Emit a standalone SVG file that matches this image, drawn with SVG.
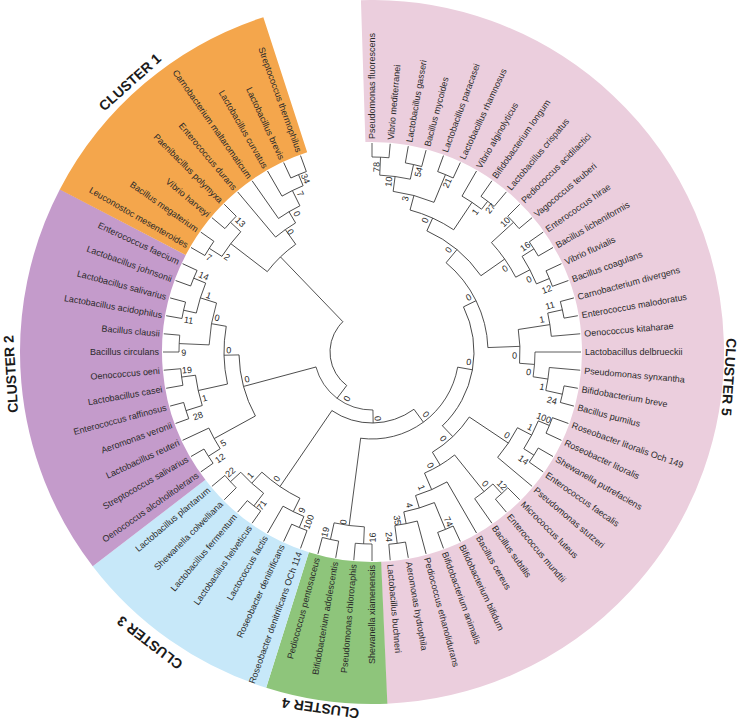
<svg xmlns="http://www.w3.org/2000/svg" width="740" height="723" viewBox="0 0 740 723">
<style>
.sec{fill:none;stroke-width:142}
.a{fill:none;stroke:#333;stroke-width:0.8}
.c line{stroke:#333;stroke-width:0.8}
.lf{font-family:"Liberation Sans",Arial,sans-serif;font-size:9px;fill:#2a2a2a}
.l{text-anchor:end}
.bs{font-family:"Liberation Sans",Arial,sans-serif;font-size:9px;fill:#2a2a2a;text-anchor:middle}
.cl{font-family:"Liberation Sans",Arial,sans-serif;font-size:14px;font-weight:bold;fill:#1a1a1a;text-anchor:middle}
</style>
<rect width="740" height="723" fill="#ffffff"/>
<g transform="translate(372,352)">
<g id="sectors">
<circle class="sec" r="281" stroke="#EBCEDD" stroke-dasharray="879.36 3000" transform="rotate(-91.8)"/>
<circle class="sec" r="281" stroke="#8EC57B" stroke-dasharray="98.09 3000" transform="rotate(87.5)"/>
<circle class="sec" r="281" stroke="#C7E8F9" stroke-dasharray="171.65 3000" transform="rotate(107.5)"/>
<circle class="sec" r="281" stroke="#C49BCB" stroke-dasharray="318.79 3000" transform="rotate(142.5)"/>
<circle class="sec" r="281" stroke="#F4A64C" stroke-dasharray="218.25 3000" transform="rotate(207.5)"/>
</g>
<g id="cluster-labels">
<text class="cl" y="5" transform="rotate(318.1) translate(0,-362.6)">CLUSTER 1</text>
<text class="cl" y="5" transform="rotate(266.5) translate(0,-362)">CLUSTER 2</text>
<text class="cl" y="5" transform="rotate(217.4) translate(0,-366)">CLUSTER 3</text>
<text class="cl" y="5" transform="rotate(188.2) translate(0,-360)">CLUSTER 4</text>
<text class="cl" y="5" transform="rotate(94) translate(0,-358)">CLUSTER 5</text>
</g>
<g id="connectors" class="c">
<line x1="195" x2="209" transform="rotate(-90)"/>
<line x1="195" x2="209" transform="rotate(-85)"/>
<line x1="192" x2="209" transform="rotate(-80)"/>
<line x1="192" x2="209" transform="rotate(-75)"/>
<line x1="192" x2="209" transform="rotate(-70)"/>
<line x1="192" x2="209" transform="rotate(-65)"/>
<line x1="180" x2="209" transform="rotate(-60)"/>
<line x1="190" x2="209" transform="rotate(-55)"/>
<line x1="190" x2="209" transform="rotate(-50)"/>
<line x1="192" x2="209" transform="rotate(-45)"/>
<line x1="192" x2="209" transform="rotate(-40)"/>
<line x1="192" x2="209" transform="rotate(-35)"/>
<line x1="192" x2="209" transform="rotate(-30)"/>
<line x1="192" x2="209" transform="rotate(-25)"/>
<line x1="192" x2="209" transform="rotate(-20)"/>
<line x1="195" x2="209" transform="rotate(-15)"/>
<line x1="195" x2="209" transform="rotate(-10)"/>
<line x1="180" x2="209" transform="rotate(-5)"/>
<line x1="163" x2="209" transform="rotate(0)"/>
<line x1="178" x2="209" transform="rotate(5)"/>
<line x1="195" x2="209" transform="rotate(10)"/>
<line x1="195" x2="209" transform="rotate(15)"/>
<line x1="192" x2="209" transform="rotate(20)"/>
<line x1="192" x2="209" transform="rotate(25)"/>
<line x1="192" x2="209" transform="rotate(30)"/>
<line x1="192" x2="209" transform="rotate(35)"/>
<line x1="164" x2="209" transform="rotate(40)"/>
<line x1="192" x2="209" transform="rotate(45)"/>
<line x1="192" x2="209" transform="rotate(50)"/>
<line x1="179" x2="209" transform="rotate(55)"/>
<line x1="150" x2="209" transform="rotate(60)"/>
<line x1="192" x2="209" transform="rotate(65)"/>
<line x1="192" x2="209" transform="rotate(70)"/>
<line x1="175" x2="209" transform="rotate(75)"/>
<line x1="193" x2="209" transform="rotate(80)"/>
<line x1="193" x2="209" transform="rotate(85)"/>
<line x1="192" x2="209" transform="rotate(90)"/>
<line x1="192" x2="209" transform="rotate(95)"/>
<line x1="192" x2="209" transform="rotate(100)"/>
<line x1="192" x2="209" transform="rotate(105)"/>
<line x1="190" x2="209" transform="rotate(110)"/>
<line x1="190" x2="209" transform="rotate(115)"/>
<line x1="178" x2="209" transform="rotate(120)"/>
<line x1="194" x2="209" transform="rotate(125)"/>
<line x1="194" x2="209" transform="rotate(130)"/>
<line x1="192" x2="209" transform="rotate(135)"/>
<line x1="192" x2="209" transform="rotate(140)"/>
<line x1="194" x2="209" transform="rotate(145)"/>
<line x1="194" x2="209" transform="rotate(150)"/>
<line x1="180" x2="209" transform="rotate(155)"/>
<line x1="195" x2="209" transform="rotate(160)"/>
<line x1="195" x2="209" transform="rotate(165)"/>
<line x1="192" x2="209" transform="rotate(170)"/>
<line x1="192" x2="209" transform="rotate(175)"/>
<line x1="193" x2="209" transform="rotate(180)"/>
<line x1="193" x2="209" transform="rotate(185)"/>
<line x1="193" x2="209" transform="rotate(190)"/>
<line x1="193" x2="209" transform="rotate(195)"/>
<line x1="193" x2="209" transform="rotate(200)"/>
<line x1="193" x2="209" transform="rotate(205)"/>
<line x1="193" x2="209" transform="rotate(210)"/>
<line x1="193" x2="209" transform="rotate(215)"/>
<line x1="192" x2="209" transform="rotate(220)"/>
<line x1="192" x2="209" transform="rotate(225)"/>
<line x1="150" x2="209" transform="rotate(230)"/>
<line x1="163" x2="209" transform="rotate(235)"/>
<line x1="180" x2="209" transform="rotate(240)"/>
<line x1="192" x2="209" transform="rotate(245)"/>
<line x1="192" x2="209" transform="rotate(250)"/>
<line x1="177" x2="195" transform="rotate(-87.5)"/>
<line x1="177" x2="192" transform="rotate(-77.5)"/>
<line x1="162" x2="177" transform="rotate(-82.5)"/>
<line x1="162" x2="192" transform="rotate(-67.5)"/>
<line x1="147" x2="162" transform="rotate(-75)"/>
<line x1="180" x2="190" transform="rotate(-52.5)"/>
<line x1="147" x2="180" transform="rotate(-56.25)"/>
<line x1="133" x2="147" transform="rotate(-65.625)"/>
<line x1="162" x2="192" transform="rotate(-42.5)"/>
<line x1="178" x2="192" transform="rotate(-32.5)"/>
<line x1="178" x2="192" transform="rotate(-22.5)"/>
<line x1="162" x2="178" transform="rotate(-27.5)"/>
<line x1="133" x2="162" transform="rotate(-35)"/>
<line x1="116" x2="133" transform="rotate(-50.3125)"/>
<line x1="180" x2="195" transform="rotate(-12.5)"/>
<line x1="148" x2="180" transform="rotate(-8.75)"/>
<line x1="178" x2="195" transform="rotate(12.5)"/>
<line x1="163" x2="178" transform="rotate(8.75)"/>
<line x1="148" x2="163" transform="rotate(4.375)"/>
<line x1="116" x2="148" transform="rotate(-2.1875)"/>
<line x1="102" x2="116" transform="rotate(-26.25)"/>
<line x1="180" x2="192" transform="rotate(22.5)"/>
<line x1="180" x2="192" transform="rotate(32.5)"/>
<line x1="164" x2="180" transform="rotate(27.5)"/>
<line x1="117" x2="164" transform="rotate(33.75)"/>
<line x1="179" x2="192" transform="rotate(47.5)"/>
<line x1="132" x2="179" transform="rotate(51.25)"/>
<line x1="163" x2="192" transform="rotate(67.5)"/>
<line x1="175" x2="193" transform="rotate(82.5)"/>
<line x1="163" x2="175" transform="rotate(78.75)"/>
<line x1="150" x2="163" transform="rotate(73.125)"/>
<line x1="132" x2="150" transform="rotate(66.56)"/>
<line x1="117" x2="132" transform="rotate(58.91)"/>
<line x1="102" x2="117" transform="rotate(46.33)"/>
<line x1="87" x2="102" transform="rotate(10.04)"/>
<line x1="175" x2="192" transform="rotate(92.5)"/>
<line x1="175" x2="192" transform="rotate(102.5)"/>
<line x1="87" x2="175" transform="rotate(97.5)"/>
<line x1="71" x2="87" transform="rotate(53.77)"/>
<line x1="178" x2="190" transform="rotate(112.5)"/>
<line x1="163" x2="178" transform="rotate(116.25)"/>
<line x1="178" x2="194" transform="rotate(127.5)"/>
<line x1="178" x2="192" transform="rotate(137.5)"/>
<line x1="163" x2="178" transform="rotate(132.5)"/>
<line x1="71" x2="163" transform="rotate(124.375)"/>
<line x1="58" x2="71" transform="rotate(89.07)"/>
<line x1="180" x2="194" transform="rotate(147.5)"/>
<line x1="133" x2="180" transform="rotate(151.25)"/>
<line x1="178" x2="195" transform="rotate(162.5)"/>
<line x1="178" x2="192" transform="rotate(172.5)"/>
<line x1="148" x2="178" transform="rotate(167.5)"/>
<line x1="163" x2="193" transform="rotate(182.5)"/>
<line x1="180" x2="193" transform="rotate(192.5)"/>
<line x1="180" x2="193" transform="rotate(202.5)"/>
<line x1="163" x2="180" transform="rotate(197.5)"/>
<line x1="148" x2="163" transform="rotate(190)"/>
<line x1="133" x2="148" transform="rotate(178.75)"/>
<line x1="58" x2="133" transform="rotate(165)"/>
<line x1="42" x2="58" transform="rotate(127.03)"/>
<line x1="178" x2="193" transform="rotate(212.5)"/>
<line x1="178" x2="192" transform="rotate(222.5)"/>
<line x1="132" x2="178" transform="rotate(217.5)"/>
<line x1="180" x2="192" transform="rotate(247.5)"/>
<line x1="163" x2="180" transform="rotate(243.75)"/>
<line x1="150" x2="163" transform="rotate(239.375)"/>
<line x1="132" x2="150" transform="rotate(234.69)"/>
<line x1="42" x2="132" transform="rotate(226.09)"/>
</g>
<g id="nodes">
<g id="n78"><circle class="a" r="195" stroke-dasharray="17.02 3000" transform="rotate(-90)"/><text class="bs" y="3" transform="rotate(-88.6) translate(185,0)">78</text></g>
<g id="n54"><circle class="a" r="192" stroke-dasharray="16.76 3000" transform="rotate(-80)"/><text class="bs" y="3" transform="rotate(-75.5) translate(186,0)">54</text></g>
<g id="n10a"><circle class="a" r="177" stroke-dasharray="30.89 3000" transform="rotate(-87.5)"/><text class="bs" y="3" transform="rotate(-84.4) translate(171,0)">10</text></g>
<g id="n21"><circle class="a" r="192" stroke-dasharray="16.76 3000" transform="rotate(-70)"/><text class="bs" y="3" transform="rotate(-66) translate(185,0)">21</text></g>
<g id="n3"><circle class="a" r="162" stroke-dasharray="42.41 3000" transform="rotate(-82.5)"/><text class="bs" y="3" transform="rotate(-77.7) translate(157,0)">3</text></g>
<g id="n27"><circle class="a" r="190" stroke-dasharray="16.58 3000" transform="rotate(-55)"/><text class="bs" y="3" transform="rotate(-50.5) translate(186,0)">27</text></g>
<g id="n1a"><circle class="a" r="180" stroke-dasharray="23.56 3000" transform="rotate(-60)"/><text class="bs" y="3" transform="rotate(-53.6) translate(174,0)">1</text></g>
<g id="n0a"><circle class="a" r="147" stroke-dasharray="48.11 3000" transform="rotate(-75)"/><text class="bs" y="3" transform="rotate(-68) translate(142,0)">0</text></g>
<g id="n10b"><circle class="a" r="192" stroke-dasharray="16.76 3000" transform="rotate(-45)"/><text class="bs" y="3" transform="rotate(-44.3) translate(186,0)">10</text></g>
<g id="n16a"><circle class="a" r="192" stroke-dasharray="16.76 3000" transform="rotate(-35)"/><text class="bs" y="3" transform="rotate(-34.5) translate(186,0)">16</text></g>
<g id="n12a"><circle class="a" r="192" stroke-dasharray="16.76 3000" transform="rotate(-25)"/><text class="bs" y="3" transform="rotate(-19.7) translate(185.6,0)">12</text></g>
<g id="n0e"><circle class="a" r="178" stroke-dasharray="31.07 3000" transform="rotate(-32.5)"/><text class="bs" y="3" transform="rotate(-24.8) translate(173,0)">0</text></g>
<g id="n0f"><circle class="a" r="162" stroke-dasharray="42.41 3000" transform="rotate(-42.5)"/><text class="bs" y="3" transform="rotate(-32.1) translate(157,0)">0</text></g>
<g id="n0b"><circle class="a" r="133" stroke-dasharray="71.09 3000" transform="rotate(-65.625)"/><text class="bs" y="3" transform="rotate(-53.1) translate(127.5,0)">0</text></g>
<g id="n11a"><circle class="a" r="195" stroke-dasharray="17.02 3000" transform="rotate(-15)"/><text class="bs" y="3" transform="rotate(-14.6) translate(184,0)">11</text></g>
<g id="n1c"><circle class="a" r="180" stroke-dasharray="23.56 3000" transform="rotate(-12.5)"/><text class="bs" y="3" transform="rotate(-10.8) translate(173,0)">1</text></g>
<g id="n24a"><circle class="a" r="195" stroke-dasharray="17.02 3000" transform="rotate(10)"/><text class="bs" y="3" transform="rotate(15.1) translate(186.4,0)">24</text></g>
<g id="n1d"><circle class="a" r="178" stroke-dasharray="23.30 3000" transform="rotate(5)"/><text class="bs" y="3" transform="rotate(11.6) translate(173.6,0)">1</text></g>
<g id="n0d"><circle class="a" r="163" stroke-dasharray="24.89 3000" transform="rotate(0)"/><text class="bs" y="3" transform="rotate(7.3) translate(158,0)">0</text></g>
<g id="n0c"><circle class="a" r="148" stroke-dasharray="33.90 3000" transform="rotate(-8.75)"/><text class="bs" y="3" transform="rotate(1.4) translate(142.5,0)">0</text></g>
<g id="n0r117"><circle class="a" r="116" stroke-dasharray="97.43 3000" transform="rotate(-50.3125)"/><text class="bs" y="3" transform="rotate(-29.5) translate(111,0)">0</text></g>
<g id="n100a"><circle class="a" r="192" stroke-dasharray="16.76 3000" transform="rotate(20)"/><text class="bs" y="3" transform="rotate(21) translate(184,0)">100</text></g>
<g id="n14b"><circle class="a" r="192" stroke-dasharray="16.76 3000" transform="rotate(30)"/><text class="bs" y="3" transform="rotate(35.5) translate(186,0)">14</text></g>
<g id="n1g"><circle class="a" r="180" stroke-dasharray="31.42 3000" transform="rotate(22.5)"/><text class="bs" y="3" transform="rotate(25.4) translate(175,0)">1</text></g>
<g id="n0m"><circle class="a" r="164" stroke-dasharray="35.78 3000" transform="rotate(27.5)"/><text class="bs" y="3" transform="rotate(31.7) translate(158.6,0)">0</text></g>
<g id="n12c"><circle class="a" r="192" stroke-dasharray="16.76 3000" transform="rotate(45)"/><text class="bs" y="3" transform="rotate(45.7) translate(186,0)">12</text></g>
<g id="n0o"><circle class="a" r="179" stroke-dasharray="23.43 3000" transform="rotate(47.5)"/><text class="bs" y="3" transform="rotate(49.3) translate(173.6,0)">0</text></g>
<g id="n74"><circle class="a" r="192" stroke-dasharray="16.76 3000" transform="rotate(65)"/><text class="bs" y="3" transform="rotate(65.8) translate(186,0)">74</text></g>
<g id="n24b"><circle class="a" r="193" stroke-dasharray="16.84 3000" transform="rotate(80)"/><text class="bs" y="3" transform="rotate(84.8) translate(185.8,0)">24</text></g>
<g id="n35"><circle class="a" r="175" stroke-dasharray="22.91 3000" transform="rotate(75)"/><text class="bs" y="3" transform="rotate(81.5) translate(170,0)">35</text></g>
<g id="n4"><circle class="a" r="163" stroke-dasharray="32.01 3000" transform="rotate(67.5)"/><text class="bs" y="3" transform="rotate(76.3) translate(157.7,0)">4</text></g>
<g id="n1h"><circle class="a" r="150" stroke-dasharray="34.36 3000" transform="rotate(60)"/><text class="bs" y="3" transform="rotate(70) translate(144.3,0)">1</text></g>
<g id="n0p"><circle class="a" r="132" stroke-dasharray="35.27 3000" transform="rotate(51.25)"/><text class="bs" y="3" transform="rotate(62.8) translate(127.4,0)">0</text></g>
<g id="n0n"><circle class="a" r="117" stroke-dasharray="51.38 3000" transform="rotate(33.75)"/><text class="bs" y="3" transform="rotate(50.6) translate(112,0)">0</text></g>
<g id="n0r103"><circle class="a" r="102" stroke-dasharray="129.21 3000" transform="rotate(-26.25)"/><text class="bs" y="3" transform="rotate(5.9) translate(97.2,0)">0</text></g>
<g id="n16b"><circle class="a" r="192" stroke-dasharray="16.76 3000" transform="rotate(90)"/><text class="bs" y="3" transform="rotate(-90.2) translate(-185.5,0)">16</text></g>
<g id="n19b"><circle class="a" r="192" stroke-dasharray="16.76 3000" transform="rotate(100)"/><text class="bs" y="3" transform="rotate(-75.5) translate(-186,0)">19</text></g>
<g id="n0q"><circle class="a" r="175" stroke-dasharray="30.54 3000" transform="rotate(92.5)"/><text class="bs" y="3" transform="rotate(-80.5) translate(-172.3,0)">0</text></g>
<g id="n0r88"><circle class="a" r="87" stroke-dasharray="132.80 3000" transform="rotate(10.04)"/><text class="bs" y="3" transform="rotate(49.1) translate(82.5,0)">0</text></g>
<g id="n100b"><circle class="a" r="190" stroke-dasharray="16.58 3000" transform="rotate(110)"/><text class="bs" y="3" transform="rotate(-69.6) translate(-181.4,0)">100</text></g>
<g id="n9b"><circle class="a" r="178" stroke-dasharray="23.30 3000" transform="rotate(112.5)"/><text class="bs" y="3" transform="rotate(-66.1) translate(-173,0)">9</text></g>
<g id="n71"><circle class="a" r="194" stroke-dasharray="16.93 3000" transform="rotate(125)"/><text class="bs" y="3" transform="rotate(-54.3) translate(-188.7,0)">71</text></g>
<g id="n22"><circle class="a" r="192" stroke-dasharray="16.76 3000" transform="rotate(135)"/><text class="bs" y="3" transform="rotate(-40.3) translate(-185.7,0)">22</text></g>
<g id="n1i"><circle class="a" r="178" stroke-dasharray="31.07 3000" transform="rotate(127.5)"/><text class="bs" y="3" transform="rotate(-45.4) translate(-173.2,0)">1</text></g>
<g id="n0s"><circle class="a" r="163" stroke-dasharray="46.23 3000" transform="rotate(116.25)"/><text class="bs" y="3" transform="rotate(-53.1) translate(-158.3,0)">0</text></g>
<g id="n0r72"><circle class="a" r="71" stroke-dasharray="87.49 3000" transform="rotate(53.77)"/><text class="bs" y="3" transform="rotate(85.1) translate(66.7,0)">0</text></g>
<g id="n12b"><circle class="a" r="194" stroke-dasharray="16.93 3000" transform="rotate(145)"/><text class="bs" y="3" transform="rotate(-35) translate(-185.4,0)">12</text></g>
<g id="n5"><circle class="a" r="180" stroke-dasharray="23.56 3000" transform="rotate(147.5)"/><text class="bs" y="3" transform="rotate(-31.5) translate(-174.5,0)">5</text></g>
<g id="n28"><circle class="a" r="195" stroke-dasharray="17.02 3000" transform="rotate(160)"/><text class="bs" y="3" transform="rotate(-20.2) translate(-185.4,0)">28</text></g>
<g id="n19a"><circle class="a" r="192" stroke-dasharray="16.76 3000" transform="rotate(170)"/><text class="bs" y="3" transform="rotate(-5.6) translate(-186,0)">19</text></g>
<g id="n1f"><circle class="a" r="178" stroke-dasharray="31.07 3000" transform="rotate(162.5)"/><text class="bs" y="3" transform="rotate(-15.4) translate(-173.5,0)">1</text></g>
<g id="n9a"><circle class="a" r="193" stroke-dasharray="16.84 3000" transform="rotate(180)"/><text class="bs" y="3" transform="rotate(-0.2) translate(-188.3,0)">9</text></g>
<g id="n11b"><circle class="a" r="193" stroke-dasharray="16.84 3000" transform="rotate(190)"/><text class="bs" y="3" transform="rotate(9.8) translate(-186,0)">11</text></g>
<g id="n14a"><circle class="a" r="193" stroke-dasharray="16.84 3000" transform="rotate(200)"/><text class="bs" y="3" transform="rotate(24.3) translate(-184.7,0)">14</text></g>
<g id="n1e"><circle class="a" r="180" stroke-dasharray="31.42 3000" transform="rotate(192.5)"/><text class="bs" y="3" transform="rotate(19.1) translate(-172.9,0)">1</text></g>
<g id="n0i"><circle class="a" r="163" stroke-dasharray="42.67 3000" transform="rotate(182.5)"/><text class="bs" y="3" transform="rotate(12.4) translate(-158.7,0)">0</text></g>
<g id="n0j"><circle class="a" r="148" stroke-dasharray="58.12 3000" transform="rotate(167.5)"/><text class="bs" y="3" transform="rotate(0.7) translate(-143.3,0)">0</text></g>
<g id="n0k"><circle class="a" r="133" stroke-dasharray="63.84 3000" transform="rotate(151.25)"/><text class="bs" y="3" transform="rotate(-12.3) translate(-128,0)">0</text></g>
<g id="n0l"><circle class="a" r="58" stroke-dasharray="76.86 3000" transform="rotate(89.07)"/><text class="bs" y="3" transform="rotate(-61.8) translate(-53,0)">0</text></g>
<g id="n7b"><circle class="a" r="193" stroke-dasharray="16.84 3000" transform="rotate(210)"/><text class="bs" y="3" transform="rotate(30.1) translate(-188.4,0)">7</text></g>
<g id="n13"><circle class="a" r="192" stroke-dasharray="16.76 3000" transform="rotate(220)"/><text class="bs" y="3" transform="rotate(44.6) translate(-185,0)">13</text></g>
<g id="n2"><circle class="a" r="178" stroke-dasharray="31.07 3000" transform="rotate(212.5)"/><text class="bs" y="3" transform="rotate(33.2) translate(-173.3,0)">2</text></g>
<g id="n34"><circle class="a" r="192" stroke-dasharray="16.76 3000" transform="rotate(245)"/><text class="bs" y="3" transform="rotate(69) translate(-185.7,0)">34</text></g>
<g id="n7a"><circle class="a" r="180" stroke-dasharray="23.56 3000" transform="rotate(240)"/><text class="bs" y="3" transform="rotate(65.6) translate(-173.8,0)">7</text></g>
<g id="n0g"><circle class="a" r="163" stroke-dasharray="24.89 3000" transform="rotate(235)"/><text class="bs" y="3" transform="rotate(61.5) translate(-157.3,0)">0</text></g>
<g id="n0h"><circle class="a" r="150" stroke-dasharray="24.54 3000" transform="rotate(230)"/><text class="bs" y="3" transform="rotate(55.8) translate(-145.2,0)">0</text></g>
<g id="nc1"><circle class="a" r="132" stroke-dasharray="39.60 3000" transform="rotate(217.5)"/></g>
<g id="root"><circle class="a" r="42" stroke-dasharray="72.62 3000" transform="rotate(127.03)"/></g>
</g>
<g id="leaves" class="lf">
<g id="leaf01"><text x="213" y="3.2" transform="rotate(-90)">Pseudomonas fluorescens</text></g>
<g id="leaf02"><text x="213" y="3.2" transform="rotate(-85)">Vibrio mediterranei</text></g>
<g id="leaf03"><text x="213" y="3.2" transform="rotate(-80)">Lactobacillus gasseri</text></g>
<g id="leaf04"><text x="213" y="3.2" transform="rotate(-75)">Bacillus mycoides</text></g>
<g id="leaf05"><text x="213" y="3.2" transform="rotate(-70)">Lactobacillus paracasei</text></g>
<g id="leaf06"><text x="213" y="3.2" transform="rotate(-65)">Lactobacillus rhamnosus</text></g>
<g id="leaf07"><text x="213" y="3.2" transform="rotate(-60)">Vibrio alginolyticus</text></g>
<g id="leaf08"><text x="213" y="3.2" transform="rotate(-55)">Bifidobacterium longum</text></g>
<g id="leaf09"><text x="213" y="3.2" transform="rotate(-50)">Lactobacillus crispatus</text></g>
<g id="leaf10"><text x="213" y="3.2" transform="rotate(-45)">Pediococcus acidilactici</text></g>
<g id="leaf11"><text x="213" y="3.2" transform="rotate(-40)">Vagococcus teuberi</text></g>
<g id="leaf12"><text x="213" y="3.2" transform="rotate(-35)">Enterococcus hirae</text></g>
<g id="leaf13"><text x="213" y="3.2" transform="rotate(-30)">Bacillus licheniformis</text></g>
<g id="leaf14"><text x="213" y="3.2" transform="rotate(-25)">Vibrio fluvialis</text></g>
<g id="leaf15"><text x="213" y="3.2" transform="rotate(-20)">Bacillus coagulans</text></g>
<g id="leaf16"><text x="213" y="3.2" transform="rotate(-15)">Carnobacterium divergens</text></g>
<g id="leaf17"><text x="213" y="3.2" transform="rotate(-10)">Enterococcus malodoratus</text></g>
<g id="leaf18"><text x="213" y="3.2" transform="rotate(-5)">Oenococcus kitaharae</text></g>
<g id="leaf19"><text x="213" y="3.2" transform="rotate(0)">Lactobacillus delbrueckii</text></g>
<g id="leaf20"><text x="213" y="3.2" transform="rotate(5)">Pseudomonas synxantha</text></g>
<g id="leaf21"><text x="213" y="3.2" transform="rotate(10)">Bifidobacterium breve</text></g>
<g id="leaf22"><text x="213" y="3.2" transform="rotate(15)">Bacillus pumilus</text></g>
<g id="leaf23"><text x="213" y="3.2" transform="rotate(20)">Roseobacter litoralis Och 149</text></g>
<g id="leaf24"><text x="213" y="3.2" transform="rotate(25)">Roseobacter litoralis</text></g>
<g id="leaf25"><text x="213" y="3.2" transform="rotate(30)">Shewanella putrefaciens</text></g>
<g id="leaf26"><text x="213" y="3.2" transform="rotate(35)">Enterococcus faecalis</text></g>
<g id="leaf27"><text x="213" y="3.2" transform="rotate(40)">Pseudomonas stutzeri</text></g>
<g id="leaf28"><text x="213" y="3.2" transform="rotate(45)">Micrococcus luteus</text></g>
<g id="leaf29"><text x="213" y="3.2" transform="rotate(50)">Enterococcus mundtii</text></g>
<g id="leaf30"><text x="213" y="3.2" transform="rotate(55)">Bacillus subtilis</text></g>
<g id="leaf31"><text x="213" y="3.2" transform="rotate(60)">Bacillus cereus</text></g>
<g id="leaf32"><text x="213" y="3.2" transform="rotate(65)">Bifidobacterium bifidum</text></g>
<g id="leaf33"><text x="213" y="3.2" transform="rotate(70)">Bifidobacterium animalis</text></g>
<g id="leaf34"><text x="213" y="3.2" transform="rotate(75)">Pediococcus ethanolidurans</text></g>
<g id="leaf35"><text x="213" y="3.2" transform="rotate(80)">Aeromonas hydrophila</text></g>
<g id="leaf36"><text x="213" y="3.2" transform="rotate(85)">Lactobacillus buchneri</text></g>
<g id="leaf37"><text class="l" x="-213" y="3.2" transform="rotate(-90)">Shewanella xiamenensis</text></g>
<g id="leaf38"><text class="l" x="-213" y="3.2" transform="rotate(-85)">Pseudomonas chlororaphis</text></g>
<g id="leaf39"><text class="l" x="-213" y="3.2" transform="rotate(-80)">Bifidobacterium adolescentis</text></g>
<g id="leaf40"><text class="l" x="-213" y="3.2" transform="rotate(-75)">Pediococcus pentosaceus</text></g>
<g id="leaf41"><text class="l" x="-213" y="3.2" transform="rotate(-70)">Roseobacter denitrificans OCh 114</text></g>
<g id="leaf42"><text class="l" x="-213" y="3.2" transform="rotate(-65)">Roseobacter denitrificans</text></g>
<g id="leaf43"><text class="l" x="-213" y="3.2" transform="rotate(-60)">Lactococcus lactis</text></g>
<g id="leaf44"><text class="l" x="-213" y="3.2" transform="rotate(-55)">Lactobacillus helveticus</text></g>
<g id="leaf45"><text class="l" x="-213" y="3.2" transform="rotate(-50)">Lactobacillus fermentum</text></g>
<g id="leaf46"><text class="l" x="-213" y="3.2" transform="rotate(-45)">Shewanella colwelliana</text></g>
<g id="leaf47"><text class="l" x="-213" y="3.2" transform="rotate(-40)">Lactobacillus plantarum</text></g>
<g id="leaf48"><text class="l" x="-213" y="3.2" transform="rotate(-35)">Oenococcus alcoholitolerans</text></g>
<g id="leaf49"><text class="l" x="-213" y="3.2" transform="rotate(-30)">Streptococcus salivarius</text></g>
<g id="leaf50"><text class="l" x="-213" y="3.2" transform="rotate(-25)">Lactobacillus reuteri</text></g>
<g id="leaf51"><text class="l" x="-213" y="3.2" transform="rotate(-20)">Aeromonas veronii</text></g>
<g id="leaf52"><text class="l" x="-213" y="3.2" transform="rotate(-15)">Enterococcus raffinosus</text></g>
<g id="leaf53"><text class="l" x="-213" y="3.2" transform="rotate(-10)">Lactobacillus casei</text></g>
<g id="leaf54"><text class="l" x="-213" y="3.2" transform="rotate(-5)">Oenococcus oeni</text></g>
<g id="leaf55"><text class="l" x="-213" y="3.2" transform="rotate(0)">Bacillus  circulans</text></g>
<g id="leaf56"><text class="l" x="-213" y="3.2" transform="rotate(5)">Bacillus clausii</text></g>
<g id="leaf57"><text class="l" x="-213" y="3.2" transform="rotate(10)">Lactobacillus acidophilus</text></g>
<g id="leaf58"><text class="l" x="-213" y="3.2" transform="rotate(15)">Lactobacillus salivarius</text></g>
<g id="leaf59"><text class="l" x="-213" y="3.2" transform="rotate(20)">Lactobacillus johnsonii</text></g>
<g id="leaf60"><text class="l" x="-213" y="3.2" transform="rotate(25)">Enterococcus faecium</text></g>
<g id="leaf61"><text class="l" x="-213" y="3.2" transform="rotate(30)">Leuconostoc mesenteroides</text></g>
<g id="leaf62"><text class="l" x="-213" y="3.2" transform="rotate(35)">Bacillus megaterium</text></g>
<g id="leaf63"><text class="l" x="-213" y="3.2" transform="rotate(40)">Vibrio harveyi</text></g>
<g id="leaf64"><text class="l" x="-213" y="3.2" transform="rotate(45)">Paenibacillus polymyxa</text></g>
<g id="leaf65"><text class="l" x="-213" y="3.2" transform="rotate(50)">Enterococcus durans</text></g>
<g id="leaf66"><text class="l" x="-213" y="3.2" transform="rotate(55)">Carnobacterium maltaromaticum</text></g>
<g id="leaf67"><text class="l" x="-213" y="3.2" transform="rotate(60)">Lactobacillus curvatus</text></g>
<g id="leaf68"><text class="l" x="-213" y="3.2" transform="rotate(65)">Lactobacillus brevis</text></g>
<g id="leaf69"><text class="l" x="-213" y="3.2" transform="rotate(70)">Streptococcus thermophilus</text></g>
</g>
</g>
</svg>
